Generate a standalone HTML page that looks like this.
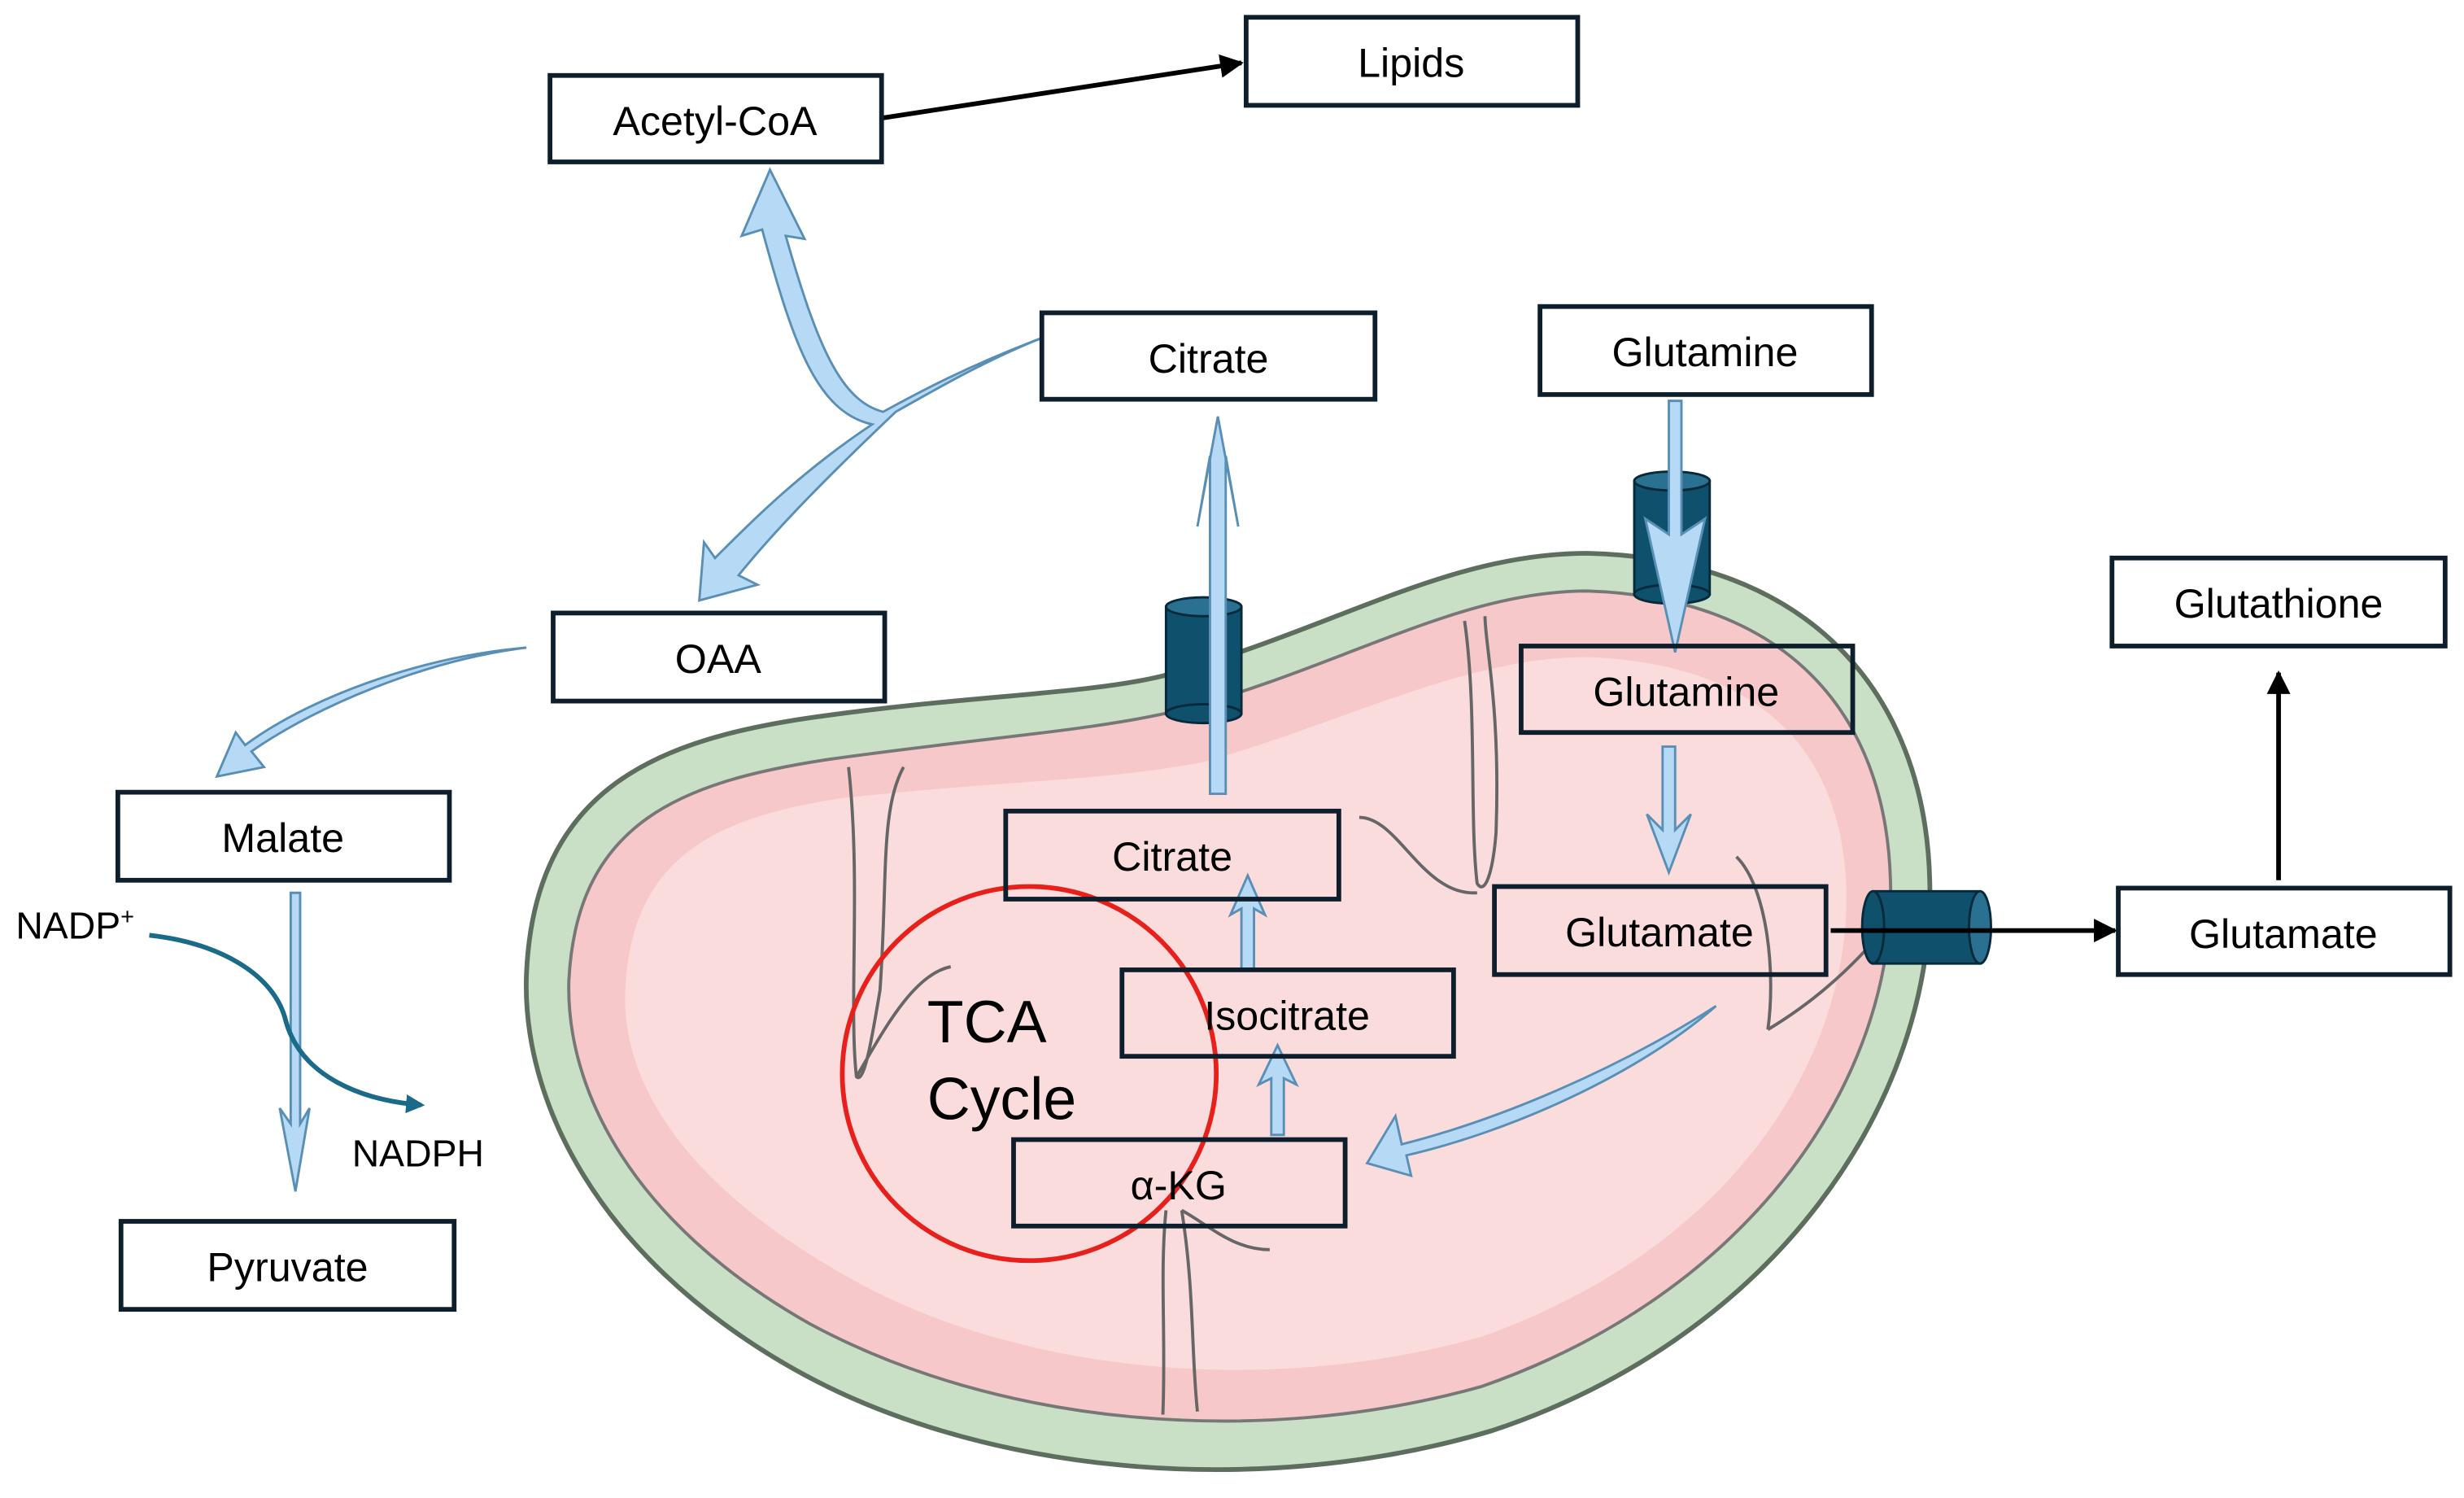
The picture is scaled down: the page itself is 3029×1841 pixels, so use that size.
<!DOCTYPE html>
<html><head><meta charset="utf-8"><style>html,body{margin:0;padding:0;background:#fff}svg{display:block}</style></head>
<body>
<svg width="3029" height="1841" viewBox="0 0 1568 953" xmlns="http://www.w3.org/2000/svg" font-family="Liberation Sans, Arial, sans-serif">
<defs>
<marker id="ah" viewBox="0 0 10 10" refX="9" refY="5" markerWidth="5" markerHeight="5" orient="auto"><path d="M0,0 L10,5 L0,10 z" fill="#000"/></marker>
<marker id="ta" viewBox="0 0 10 10" refX="8" refY="5" markerWidth="4" markerHeight="4" orient="auto"><path d="M0,0 L10,5 L0,10 z" fill="#1a6a8a"/></marker>
</defs>
<!-- mitochondrion -->
<path d="M740,430 C850,400 920,352 1010,352 C1150,355 1225,440 1228,560 C1232,700 1130,850 950,910 C800,955 620,938 500,868 C380,798 332,700 335,620 C340,500 420,470 520,456 C620,442 690,442 740,430 Z" fill="#c9e0c6" stroke="#5e6e5e" stroke-width="3"/>
<path d="M750,452 C855,424 928,376 1010,376 C1135,380 1200,452 1203,560 C1207,685 1115,822 943,882 C800,922 635,907 515,842 C402,778 360,693 362,624 C367,522 435,497 528,483 C628,469 695,465 750,452 Z" fill="#f7c8ca" stroke="#777" stroke-width="2"/>
<path d="M765,485 C855,460 932,418 1010,418 C1118,422 1172,475 1175,566 C1177,678 1098,795 944,850 C812,888 655,875 546,816 C438,757 394,690 398,627 C403,545 456,520 534,508 C632,497 702,497 765,485 Z" fill="#fcdfe0" opacity="0.85"/>
<!-- cristae -->
<g fill="none" stroke="#666" stroke-width="2">
<path d="M540,488 C548,560 540,640 545,685 C550,690 555,660 560,630 C565,560 560,515 575,488"/>
<path d="M932,395 C940,450 935,520 940,562 C945,570 950,555 952,530 C955,450 945,410 945,392"/>
<path d="M740,900 C742,850 738,810 742,770 M752,770 C760,820 758,860 762,898"/>
<path d="M1125,655 C1150,640 1175,620 1200,590"/>
<path d="M865,520 C890,520 905,570 940,568"/>
<path d="M1105,545 C1125,565 1130,620 1125,655"/>
<path d="M545,685 C560,660 580,620 605,615"/>
<path d="M752,770 C770,780 785,795 808,795"/>
</g>
<!-- TCA circle -->
<circle cx="655" cy="683" r="119" fill="none" stroke="#e8201c" stroke-width="3"/>
<text x="590" y="663" font-size="38">TCA</text>
<text x="590" y="712" font-size="38">Cycle</text>
<!-- transporters -->
<g fill="#0f506d" stroke="#062a3a" stroke-width="1.5">
<rect x="742" y="386" width="48" height="68"/><ellipse cx="766" cy="454" rx="24" ry="6"/><ellipse cx="766" cy="386" rx="24" ry="6" fill="#2a7090"/>
<rect x="1040" y="306" width="48" height="72"/><ellipse cx="1064" cy="378" rx="24" ry="6"/><ellipse cx="1064" cy="306" rx="24" ry="6" fill="#2a7090"/>
<rect x="1192" y="567" width="68" height="46"/><ellipse cx="1192" cy="590" rx="7" ry="23"/><ellipse cx="1260" cy="590" rx="7" ry="23" fill="#2a7090"/>
</g>
<!-- light blue arrows -->
<g fill="#b6daf6" stroke="#5a8fb5" stroke-width="1.5">
<path d="M770,505 L770,290 L762,335 L775,265 L788,335 L780,290 L780,505 Z"/>
<path d="M1062,255 L1070,255 L1070,340 L1085,330 L1066,415 L1047,330 L1062,340 Z"/>
<path d="M1058,475 L1066,475 L1066,528 L1076,518 L1062,555 L1048,518 L1058,528 Z"/>
<path d="M790,617 L798,617 L798,578 L805,582 L794,557 L783,582 L790,578 Z"/>
<path d="M809,722 L817,722 L817,686 L825,690 L813,665 L801,690 L809,686 Z"/>
<path d="M185,568 L191,568 L191,715 L197,705 L188,758 L178,705 L185,715 Z"/>
<path d="M1092,640 C1040,685 960,720 895,735 L898,748 L870,740 L888,710 L892,728 C955,712 1030,680 1092,640 Z"/>
<path d="M335,412 C270,420 200,450 160,478 L168,488 L138,494 L150,466 L156,474 C195,445 265,418 335,412 Z"/>
<path d="M663,215 C610,235 575,255 562,262 C535,255 520,220 500,150 L512,152 L490,108 L472,150 L485,146 C505,220 520,262 555,270 C510,300 480,330 455,355 L448,345 L445,382 L482,372 L470,366 C495,335 530,300 570,262 C600,245 630,228 663,215 Z"/>
</g>
<!-- NADP curve -->
<path d="M95,595 C140,600 175,620 182,650 C192,685 230,700 268,703" fill="none" stroke="#1a6a8a" stroke-width="3" marker-end="url(#ta)"/>
<text x="10" y="597" font-size="24">NADP<tspan font-size="15" dy="-9">+</tspan></text>
<text x="224" y="742" font-size="24">NADPH</text>
<!-- black arrows -->
<g stroke="#000" stroke-width="3" fill="none">
<line x1="562" y1="75" x2="790" y2="40" marker-end="url(#ah)"/>
<line x1="1450" y1="560" x2="1450" y2="428" marker-end="url(#ah)"/>
<line x1="1165" y1="592" x2="1346" y2="592" marker-end="url(#ah)"/>
</g>
<!-- boxes -->
<g stroke="#0d1f2d" stroke-width="3">
<rect x="793" y="11" width="211" height="56" fill="#fff"/>
<rect x="350" y="48" width="211" height="55" fill="#fff"/>
<rect x="663" y="199" width="212" height="55" fill="#fff"/>
<rect x="980" y="195" width="211" height="56" fill="#fff"/>
<rect x="352" y="390" width="211" height="56" fill="#fff"/>
<rect x="75" y="504" width="211" height="56" fill="#fff"/>
<rect x="77" y="777" width="212" height="56" fill="#fff"/>
<rect x="1344" y="355" width="212" height="56" fill="#fff"/>
<rect x="1348" y="565" width="211" height="55" fill="#fff"/>
<rect x="968" y="411" width="211" height="55" fill="none"/>
<rect x="640" y="516" width="212" height="56" fill="none"/>
<rect x="951" y="564" width="211" height="56" fill="none"/>
<rect x="714" y="617" width="211" height="55" fill="none"/>
<rect x="645" y="725" width="211" height="55" fill="none"/>
</g>
<g font-size="26" text-anchor="middle" fill="#000" font-weight="500">
<text x="898" y="49">Lipids</text>
<text x="455" y="86">Acetyl-CoA</text>
<text x="769" y="237">Citrate</text>
<text x="1085" y="233">Glutamine</text>
<text x="457" y="428">OAA</text>
<text x="180" y="542">Malate</text>
<text x="183" y="815">Pyruvate</text>
<text x="1450" y="393">Glutathione</text>
<text x="1453" y="603">Glutamate</text>
<text x="1073" y="449">Glutamine</text>
<text x="746" y="554">Citrate</text>
<text x="1056" y="602">Glutamate</text>
<text x="819" y="655">Isocitrate</text>
<text x="750" y="763">α-KG</text>
</g>
</svg>
</body></html>
